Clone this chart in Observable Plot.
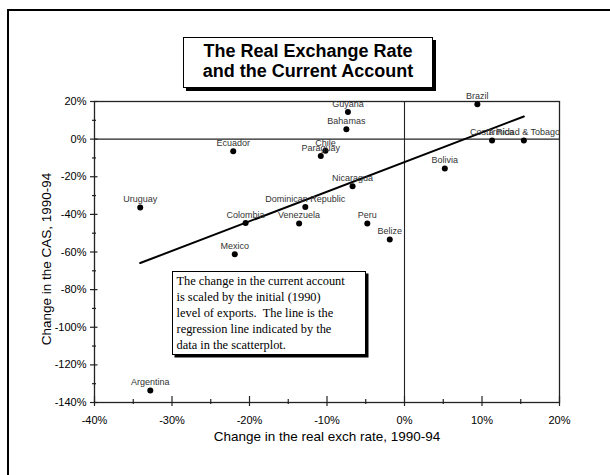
<!DOCTYPE html>
<html>
<head>
<meta charset="utf-8">
<script src="https://cdn.jsdelivr.net/npm/d3@7"></script>
<script src="https://cdn.jsdelivr.net/npm/@observablehq/plot@0.6"></script>
<style>
  html, body { margin: 0; padding: 0; background: #fff; }
  #wrap { position: relative; width: 610px; height: 475px; overflow: hidden; background: #fff; }
  #outer { position: absolute; left: 7px; top: 9px; width: 800px; height: 800px; border: 2px solid #000; box-sizing: border-box; }
  #title { position: absolute; left: 183px; top: 37px; width: 250px; height: 51px; box-sizing: border-box;
    border: 1.3px solid #000; box-shadow: 3px 3px 0 #000; background: #fff;
    font-family: "Liberation Sans", Arial, sans-serif; font-weight: bold; font-size: 18px; line-height: 20.3px;
    text-align: center; padding-top: 3px; color: #000; }
  #note { position: absolute; left: 172px; top: 271px; width: 194px; height: 84px; box-sizing: border-box;
    border: 1px solid #000; box-shadow: 2.5px 2.5px 0 #000; background: #fff;
    font-family: "Liberation Serif", "Times New Roman", serif; font-size: 12.4px; line-height: 16px;
    padding: 1px 0 0 3.5px; color: #000; white-space: nowrap; }
  #chart { position: absolute; left: 0; top: 0; }
</style>
</head>
<body>
<div id="wrap">
  <div id="chart"></div>
  <div id="outer"></div>
  <div id="title">The Real Exchange Rate<br>and the Current Account</div>
  <div id="note">The change in the current account<br>is scaled by the initial (1990)<br>level of exports.&nbsp; The line is the<br>regression line indicated by the<br>data in the scatterplot.</div>
</div>
<script>
const countries = ["Guyana", "Bahamas", "Ecuador", "Chile", "Paraguay", "Nicaragua", "Dominican Republic",
  "Colombia", "Venezuela", "Peru", "Belize", "Mexico", "Brazil", "Costa Rica", "Trinidad & Tobago",
  "Bolivia", "Uruguay", "Argentina"];
const realExchChange = [-7.3, -7.5, -22.1, -10.2, -10.8, -6.7, -12.8,
  -20.5, -13.6, -4.8, -1.9, -21.9, 9.4, 11.3, 15.4,
  5.2, -34.1, -32.8];
const casChange = [14.4, 5.2, -6.5, -6.2, -9.0, -25.1, -36.1,
  -44.6, -44.8, -44.8, -53.3, -61.2, 18.6, -0.7, -0.7,
  -15.6, -36.3, -133.6];

const xMajorTicks = [-40, -30, -20, -10, 0, 10, 20];
const xMinorTicks = [-35, -25, -15, -5, 5, 15];
const yMajorTicks = [-140, -120, -100, -80, -60, -40, -20, 0, 20];
const yMinorTicks = [-130, -110, -90, -70, -50, -30, -10, 10];
const refX = [0];
const refY = [0];
const xTitle = ["Change in the real exch rate, 1990-94"];
const yTitle = ["Change in the CAS, 1990-94"];

const data = countries.map((c, i) => ({country: c, x: realExchChange[i], y: casChange[i]}));
const pct = d => d + "%";
const blank = () => "";
const ink = "#222";

const chart = Plot.plot({
  width: 610,
  height: 475,
  marginLeft: 94,
  marginRight: 51,
  marginTop: 101,
  marginBottom: 73,
  style: {fontFamily: "'Liberation Sans', Arial, sans-serif", background: "transparent", color: "#000"},
  x: {domain: [-40, 20], label: null},
  y: {domain: [-140, 20], label: null},
  marks: [
    Plot.frame({stroke: ink, strokeWidth: 1.3}),
    Plot.ruleY(refY, {stroke: ink, strokeWidth: 1.1}),
    Plot.ruleX(refX, {stroke: ink, strokeWidth: 1.1}),
    Plot.axisX(xMajorTicks, {anchor: "bottom", tickSize: 10, dy: -6, tickFormat: blank, label: null, stroke: ink, strokeWidth: 1.2}),
    Plot.axisX(xMinorTicks, {anchor: "bottom", tickSize: 5, dy: -3, tickFormat: blank, label: null, stroke: ink, strokeWidth: 1.2}),
    Plot.axisX(xMajorTicks, {anchor: "bottom", tickSize: 0, tickPadding: 14, tickFormat: pct, label: null, fontSize: 11, fill: "#000"}),
    Plot.axisY(yMajorTicks, {anchor: "left", tickSize: 7.5, dx: 3.5, tickFormat: blank, label: null, stroke: ink, strokeWidth: 1.2}),
    Plot.axisY(yMinorTicks, {anchor: "left", tickSize: 4, dx: 2, tickFormat: blank, label: null, stroke: ink, strokeWidth: 1.2}),
    Plot.axisY(yMajorTicks, {anchor: "left", tickSize: 0, tickPadding: 8, tickFormat: pct, label: null, fontSize: 11, fill: "#000"}),
    Plot.linearRegressionY(data, {x: "x", y: "y", ci: 0, stroke: "#000", strokeWidth: 2}),
    Plot.dot(data, {x: "x", y: "y", r: 3, fill: "#000", stroke: "none"}),
    Plot.text(data, {x: "x", y: "y", text: "country", dy: -8, fontSize: 9, fill: "#333"}),
    Plot.text(xTitle, {frameAnchor: "bottom", lineAnchor: "middle", dy: 34, fontSize: 13.5, fill: "#000"}),
    Plot.text(yTitle, {frameAnchor: "left", textAnchor: "middle", lineAnchor: "middle", dx: -48, dy: 7, rotate: -90, fontSize: 13.5, fill: "#000"})
  ]
});
document.getElementById("chart").appendChild(chart);
</script>
</body>
</html>
